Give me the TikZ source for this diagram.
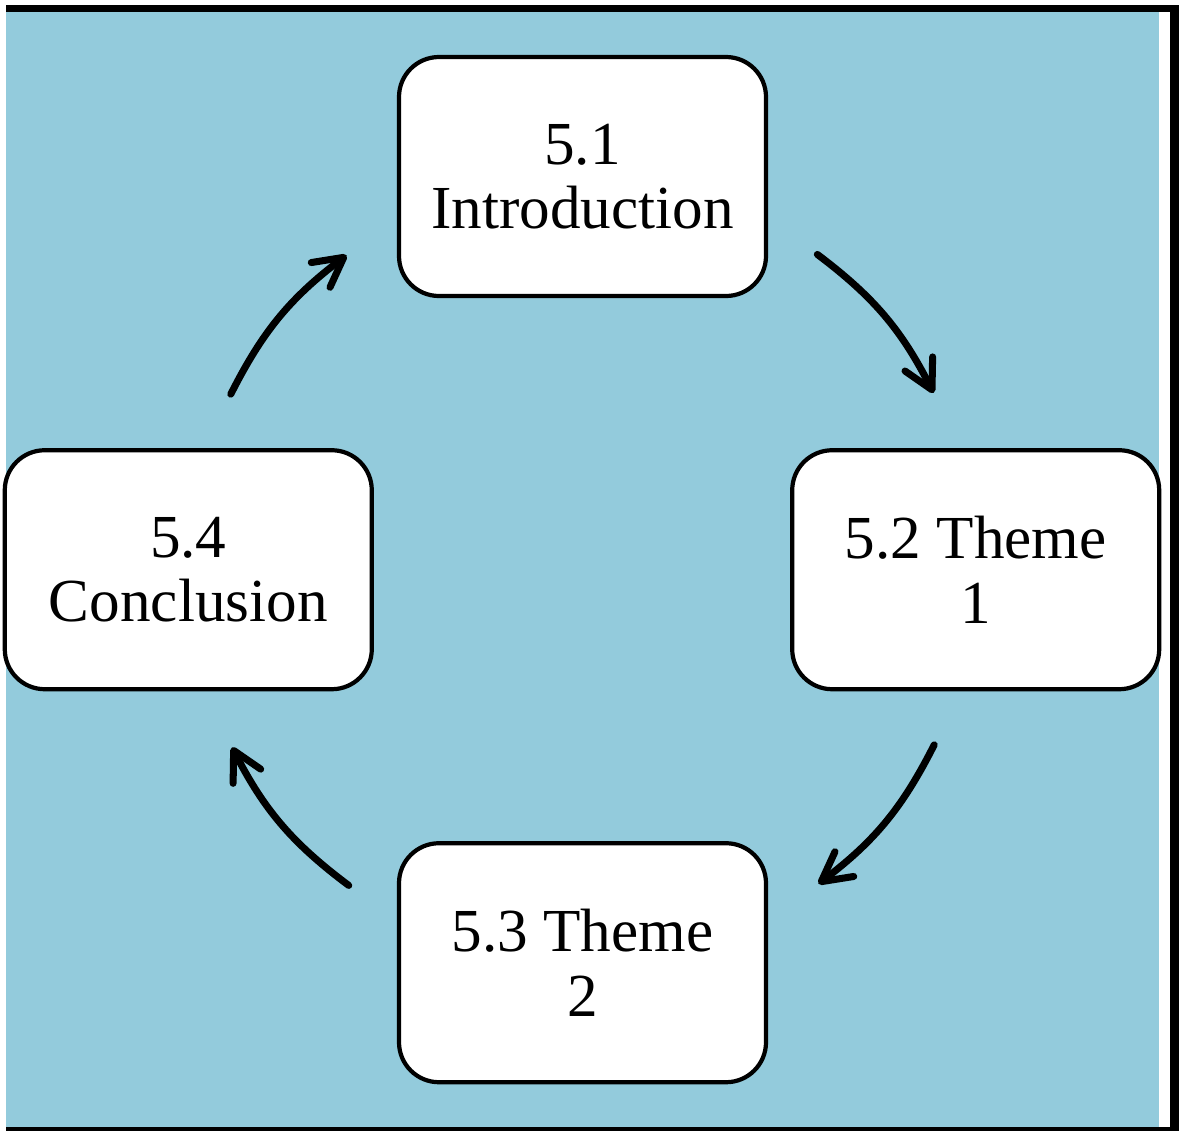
\documentclass[tikz,border=0pt]{standalone}
\usepackage{fontspec}
\setmainfont{Liberation Serif}
\usetikzlibrary{arrows.meta,positioning}
\definecolor{bgblue}{RGB}{147,203,220}

\begin{document}
\begin{tikzpicture}[>={Straight Barb[length=2.9mm,width=3.1mm,round]},line width=2pt,line cap=round,
    chapter/.style={draw,fill=white,rounded corners=0.4cm,line width=1.2pt,
      minimum width=3.67cm,minimum height=2.39cm,align=center,
      font=\fontsize{17.4}{18.3}\selectfont}]

                \useasboundingbox (0,0) rectangle (11.8,-11.31);
                \fill[black] (0.06,-0.05) rectangle (11.79,-11.31);
                \fill[white] (0.06,-0.12) rectangle (11.70,-11.27);
                \fill[bgblue] (0.06,-0.12) rectangle (11.59,-11.27);

                \node[chapter] (intro) at (5.825,-1.765) {5.1\\Introduction};

                \node[chapter] (theme1) [below right=1.5cm and 0.22cm of intro] {5.2 Theme\\1};

                \node[chapter] (concl) [below left=1.5cm and 0.23cm of intro] {5.4\\Conclusion};

                \node[chapter] (theme2) [below=5.43cm of intro] {5.3 Theme\\2};

                

                \coordinate (c) at (5.825,-5.695);

                \foreach \n/\a in {1/53.3,2/-26.5,3/-126.5,4/153.5}{
                  \coordinate (s\n) at ([shift={(\a:3.93)}]c);
                  \coordinate (e\n) at ([shift={(\a-26.6:3.93)}]c);
                }

                

                \path[->] (s1) edge [bend left=13] (e1)

                          (s2) edge [bend left=13] (e2)

                          (s3) edge [bend left=13] (e3)

                          (s4) edge [bend left=13] (e4);

            \end{tikzpicture}
\end{document}
